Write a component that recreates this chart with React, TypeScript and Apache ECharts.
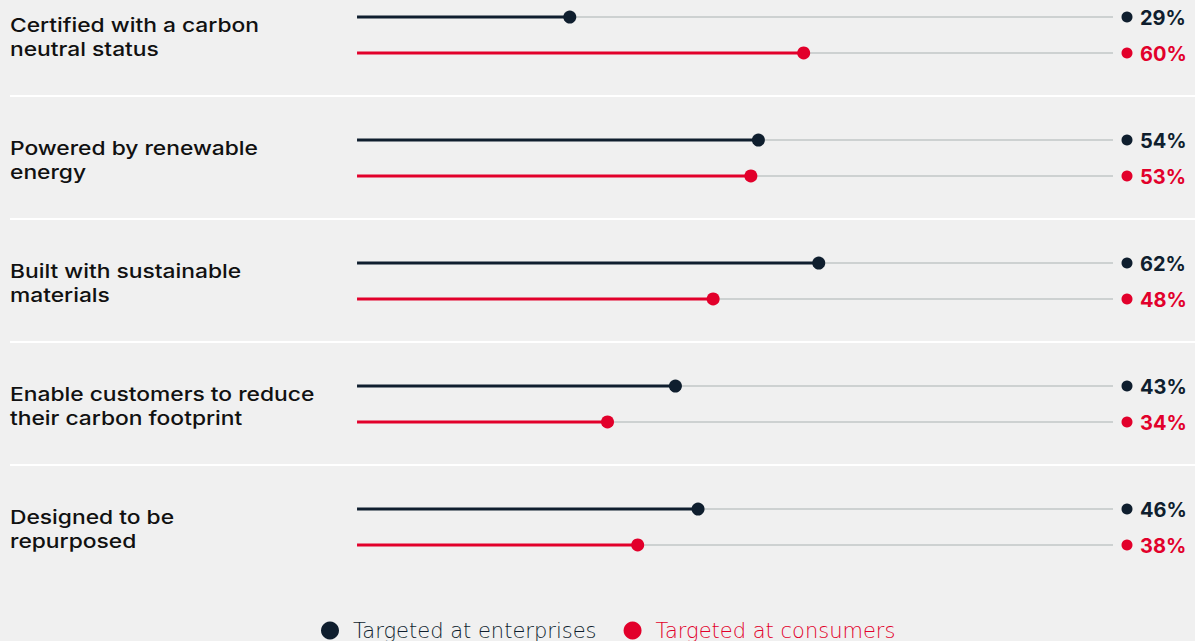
import React, { useEffect, useRef } from "react";
import * as echarts from "echarts";

const categories = [
  "Certified with a carbon\nneutral status",
  "Powered by renewable\nenergy",
  "Built with sustainable\nmaterials",
  "Enable customers to reduce\ntheir carbon footprint",
  "Designed to be\nrepurposed",
];
const enterprises = [29, 54, 62, 43, 46];
const consumers = [60, 53, 48, 34, 38];
const seriesNames = ["Targeted at enterprises", "Targeted at consumers"];

const DARK = "#0f1e2e";
const RED = "#e2002b";
const TRACK = "#cdd1d1";
const BG = "#f0f0f0";
const FONT = "'DejaVu Sans', sans-serif";
const VFONT = "Inter, 'DejaVu Sans', sans-serif";

const TRACK_START = 0.8;
const TRACK_END = 101;
const PAIR_OFFSET = 0.146;
const SEP_OFFSET = 0.495;

function makeRender(color: string, offset: number) {
  return (params: any, api: any) => {
    const row = api.value(0);
    const v = api.value(1);
    const yv = row + offset;
    const s = api.coord([TRACK_START, yv]);
    const e = api.coord([v, yv]);
    const t = api.coord([TRACK_END, yv]);
    return {
      type: "group",
      children: [
        { type: "line", shape: { x1: s[0], y1: s[1], x2: t[0], y2: t[1] }, style: { stroke: TRACK, lineWidth: 2 } },
        { type: "line", shape: { x1: s[0], y1: s[1], x2: e[0], y2: e[1] }, style: { stroke: color, lineWidth: 3 } },
        { type: "circle", shape: { cx: e[0], cy: e[1], r: 6.5 }, style: { fill: color } },
        { type: "circle", shape: { cx: t[0] + 14, cy: t[1], r: 5.5 }, style: { fill: color } },
        {
          type: "text",
          x: t[0] + 27,
          y: t[1] + 1,
          style: {
            text: v + "%",
            fill: color,
            font: `bold 20px ${VFONT}`,
            verticalAlign: "middle",
            align: "left",
          },
        },
      ],
    };
  };
}

export default function App() {
  const ref = useRef<HTMLDivElement>(null);
  useEffect(() => {
    document.body.style.margin = "0";
    document.body.style.background = BG;
    const chart = echarts.init(ref.current!, undefined, { renderer: "svg" });
    chart.setOption({
      animation: false,
      backgroundColor: BG,
      grid: { left: 351, width: 762, top: 0, height: 641 },
      xAxis: { type: "value", min: 0, max: 101, show: false },
      yAxis: {
        type: "value",
        inverse: true,
        min: -35 / 123,
        max: (641 - 35) / 123,
        show: false,
      },
      legend: {
        data: [
          { name: seriesNames[0], textStyle: { color: DARK } },
          { name: seriesNames[1], textStyle: { color: RED } },
        ],
        left: 316,
        top: 615,
        icon: "circle",
        itemWidth: 18,
        itemHeight: 18,
        itemGap: 27,
        textStyle: { fontSize: 21, fontFamily: FONT, fontWeight: 200, padding: [0, 0, 0, 9] },
        selectedMode: false,
      },
      series: [
        {
          type: "custom",
          name: "categories",
          silent: true,
          data: categories.map((c, i) => [i]),
          renderItem: (params: any, api: any) => {
            const i = params.dataIndex;
            const row = api.value(0);
            const c = api.coord([0, row]);
            const children: any[] = [
              {
                type: "text",
                x: 10,
                y: c[1] + 2,
                scaleX: 1.2,
                style: {
                  text: categories[i],
                  fill: "#111111",
                  font: `500 19px ${VFONT}`,
                  lineHeight: 24,
                  verticalAlign: "middle",
                  align: "left",
                },
              },
            ];
            if (i < categories.length - 1) {
              const sp = api.coord([0, row + SEP_OFFSET]);
              children.push({
                type: "line",
                shape: { x1: 10, y1: sp[1], x2: api.getWidth(), y2: sp[1] },
                style: { stroke: "#ffffff", lineWidth: 2 },
              });
            }
            return { type: "group", children };
          },
        },
        {
          type: "custom",
          name: seriesNames[0],
          itemStyle: { color: DARK },
          data: enterprises.map((v, i) => [i, v]),
          renderItem: makeRender(DARK, -PAIR_OFFSET),
        },
        {
          type: "custom",
          name: seriesNames[1],
          itemStyle: { color: RED },
          data: consumers.map((v, i) => [i, v]),
          renderItem: makeRender(RED, PAIR_OFFSET),
        },
      ],
    });
    return () => chart.dispose();
  }, []);
  return <div ref={ref} style={{ width: 1195, height: 641 }} />;
}
